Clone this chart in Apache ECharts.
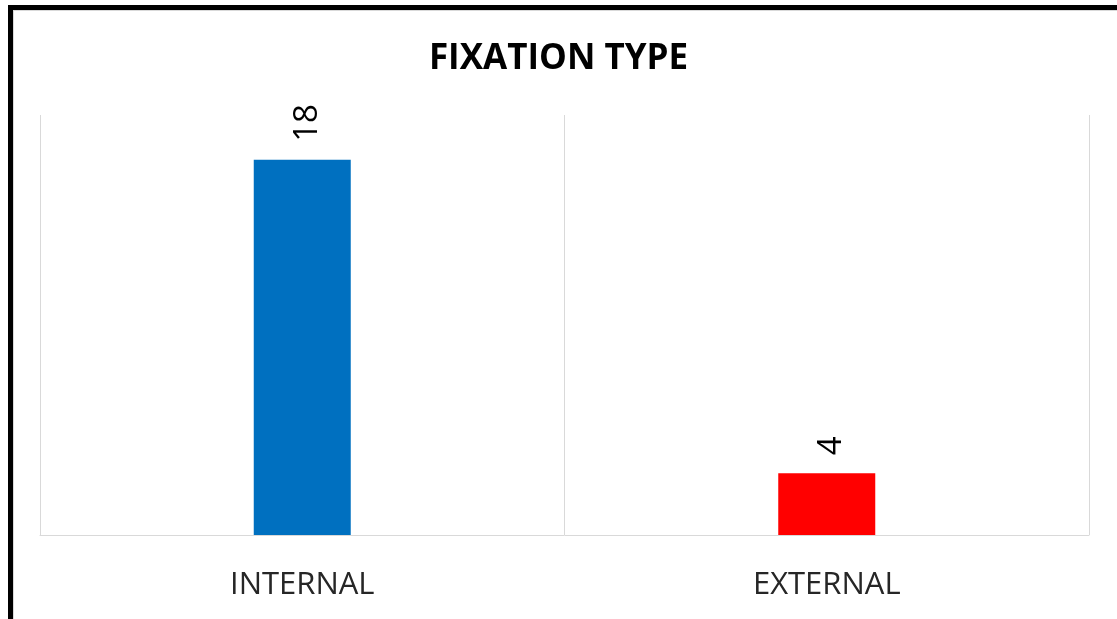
<!DOCTYPE html>
<html>
<head>
<meta charset="utf-8">
<script src="https://cdn.jsdelivr.net/npm/echarts@6/dist/echarts.min.js"></script>
<style>
  html, body { margin: 0; padding: 0; background: #ffffff; }
  #chart { width: 1117px; height: 619px; }
</style>
</head>
<body>
<div id="chart"></div>
<script>
// Fixation type counts
const categories = ['INTERNAL', 'EXTERNAL'];
const counts = [18, 4];
const barColors = ['#0070C0', '#FF0000'];

const chart = echarts.init(document.getElementById('chart'), null, { renderer: 'canvas' });

chart.setOption({
  animation: false,
  backgroundColor: '#ffffff',
  title: {
    text: 'FIXATION TYPE',
    left: 'center',
    top: 37,
    textStyle: {
      fontFamily: 'Open Sans',
      fontWeight: 'bold',
      fontSize: 35,
      color: '#000000'
    }
  },
  graphic: [
    // frame: heavy top and left rules with a faint inner edge
    { type: 'rect', shape: { x: 8, y: 5, width: 1109, height: 5 }, style: { fill: '#000000' } },
    { type: 'rect', shape: { x: 8, y: 5, width: 5, height: 614 }, style: { fill: '#000000' } },
    { type: 'rect', shape: { x: 13, y: 10, width: 1104, height: 1 }, style: { fill: '#d9d9d9' } },
    { type: 'rect', shape: { x: 13, y: 10, width: 1, height: 609 }, style: { fill: '#d9d9d9' } }
  ],
  grid: {
    left: 40,
    right: 28,
    top: 115,
    bottom: 84,
    containLabel: false
  },
  xAxis: {
    type: 'category',
    data: categories,
    boundaryGap: true,
    axisLine: { show: true, lineStyle: { color: '#d9d9d9', width: 1 } },
    axisTick: { show: false },
    splitLine: { show: true, lineStyle: { color: '#d9d9d9', width: 1 } },
    axisLabel: {
      margin: 35,
      fontFamily: 'Open Sans',
      fontSize: 31,
      color: '#262626'
    }
  },
  yAxis: {
    type: 'value',
    min: 1.24,
    max: 20,
    show: false,
    splitLine: { show: false }
  },
  series: [{
    type: 'bar',
    barWidth: 97,
    data: counts.map((v, i) => ({ value: v, itemStyle: { color: barColors[i] } })),
    label: {
      show: true,
      position: 'top',
      rotate: 90,
      align: 'left',
      verticalAlign: 'middle',
      distance: 18,
      offset: [0, 5],
      fontFamily: 'Open Sans',
      fontSize: 33,
      color: '#000000'
    }
  }]
});
</script>
</body>
</html>
